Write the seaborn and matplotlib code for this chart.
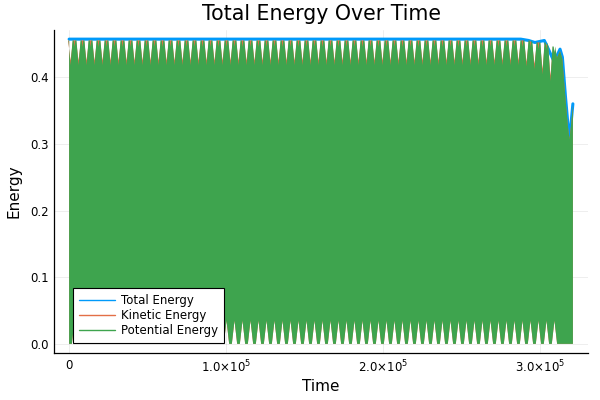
import numpy as np
import pandas as pd
import matplotlib
matplotlib.use('Agg')
import matplotlib.pyplot as plt
import seaborn as sns
from matplotlib.lines import Line2D
from matplotlib.ticker import FixedLocator, FuncFormatter

# ------------------------------------------------------------------
# Values
# ------------------------------------------------------------------
# Total energy (smooth curve, flat until the break-up near the end)
time_total = [0, 288000, 293000, 297000, 301000, 303000, 306000, 309000,
              311000, 313000, 314500, 316500, 318000, 319000, 320000, 321200]
total_energy = [0.457, 0.457, 0.455, 0.452, 0.454, 0.455, 0.440, 0.424,
                0.432, 0.442, 0.430, 0.370, 0.330, 0.310, 0.330, 0.360]

# Kinetic / potential energy swing between ~0 and the total far too fast to
# follow, so the picture shows a solid band with beat notches on its edges.
notch_first = 900          # time of the first notch on the top edge
notch_period = 5100        # spacing of the notches
n_notches = 61
pe_peak = [0.455] * 58 + [0.452, 0.452, 0.446]            # band top between notches
pe_notch = [0.418] * 57 + [0.416, 0.412, 0.404, 0.394]     # bottom of each top notch
ke_notch = [0.425] * 57 + [0.423, 0.420, 0.412, 0.402]
pe_floor_notch = 0.035     # top of the white spikes on the bottom edge

t_end = time_total[-1]

# ------------------------------------------------------------------
# Build the band outlines
# ------------------------------------------------------------------
centres = [notch_first + i * notch_period for i in range(n_notches)]


def edge(notches):
    pts = []
    for c, lv, d, hw in sorted(notches):
        pts += [(c - hw, lv), (c, d), (c + hw, lv)]
    return pts


pe_top = edge([(c, p, d, 1300) for c, p, d in zip(centres, pe_peak, pe_notch)]
              + [(c + notch_period / 2, p, p - 0.010, 500) for c, p in zip(centres, pe_peak)])
ke_top = edge([(c, p, d, 1550) for c, p, d in zip(centres, pe_peak, ke_notch)])

bottom = [(c + notch_period / 2, 0.0, pe_floor_notch, 1700) for c in centres]
bottom_edge = [(0, 0.0)] + edge(bottom) + [(t_end, 0.0)]

last_x = max(p[0] for p in pe_top)
tail = [(t, e - 0.003) for t, e in zip(time_total, total_energy) if t > last_x]


def band(top):
    pts = [(0, 0.0), (0, top[0][1])] + top + tail
    pts += [(t_end, 0.0)] + bottom_edge[::-1]
    return np.array(pts)


pe_poly = band(pe_top)
ke_poly = band(ke_top)

df_total = pd.DataFrame({'time': time_total, 'energy': total_energy})

# ------------------------------------------------------------------
# Plot
# ------------------------------------------------------------------
sns.set_style('white')
plt.rcParams['font.family'] = ['DejaVu Sans']
plt.rcParams['mathtext.fontset'] = 'dejavusans'
plt.rcParams['text.color'] = 'black'
plt.rcParams['axes.labelcolor'] = 'black'

c_total, c_kin, c_pot = '#009AFA', '#E36F47', '#3EA44E'

fig, ax = plt.subplots(figsize=(6, 4), dpi=100)
fig.subplots_adjust(left=0.09, right=0.98, bottom=0.1175, top=0.925)

sns.lineplot(data=df_total, x='time', y='energy', color=c_total,
             linewidth=2.2, ax=ax, zorder=2)
ax.fill(ke_poly[:, 0], ke_poly[:, 1], color=c_kin, lw=0, zorder=3)
ax.fill(pe_poly[:, 0], pe_poly[:, 1], color=c_pot, lw=0, zorder=4)

ax.set_xlim(-0.03 * t_end, 1.03 * t_end)
ax.set_ylim(-0.03 * 0.457, 1.03 * 0.457)

ax.xaxis.set_major_locator(FixedLocator([0, 1e5, 2e5, 3e5]))
ax.xaxis.set_major_formatter(FuncFormatter(
    lambda v, p: '0' if v == 0 else r'$%.1f{\times}10^{5}$' % (v / 1e5)))
ax.set_yticks([0.0, 0.1, 0.2, 0.3, 0.4])

ax.grid(True, color='black', alpha=0.08, linewidth=0.6)
ax.set_axisbelow(True)
for s in ['top', 'right']:
    ax.spines[s].set_visible(False)
for s in ['left', 'bottom']:
    ax.spines[s].set_color('black')
    ax.spines[s].set_linewidth(0.9)
ax.tick_params(direction='in', length=3, width=0.7, labelsize=8.5,
               colors='black', pad=4)

ax.set_title('Total Energy Over Time', fontsize=14.8, pad=7, color='black')
ax.set_xlabel('Time', fontsize=11, labelpad=3)
ax.set_ylabel('Energy', fontsize=11, labelpad=6)

handles = [Line2D([], [], color=c_total, lw=1),
           Line2D([], [], color=c_kin, lw=1),
           Line2D([], [], color=c_pot, lw=1)]
leg = ax.legend(handles, ['Total Energy', 'Kinetic Energy', 'Potential Energy'],
                loc='lower left', bbox_to_anchor=(0.035, 0.03), fontsize=8.5,
                frameon=True, fancybox=False, framealpha=1, edgecolor='black',
                handlelength=3.1, handletextpad=0.5, labelspacing=0.2,
                borderpad=0.5, borderaxespad=0)
leg.get_frame().set_linewidth(0.8)
leg.set_zorder(10)

plt.savefig('out.png', dpi=100)
